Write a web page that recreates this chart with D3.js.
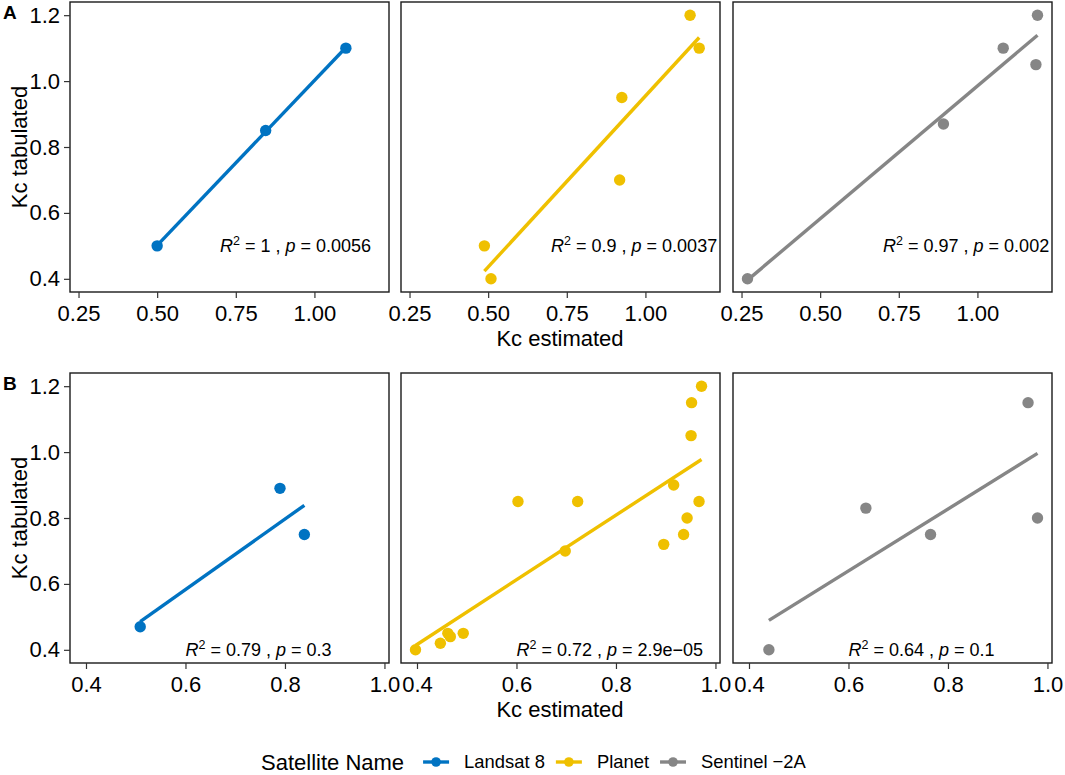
<!DOCTYPE html>
<html><head><meta charset="utf-8">
<script src="https://cdn.jsdelivr.net/npm/d3@7"></script>
<style>
body{margin:0;background:#fff}
text{font-family:"Liberation Sans",Arial,Helvetica,sans-serif;white-space:pre}
</style>
</head><body>
<svg id="c" width="1065" height="775"></svg>
<script>
// ---------------- DATA ----------------
const satellites = ["Landsat 8", "Planet", "Sentinel −2A"];
const rowLabels = ["A", "B"];

// Row A
const landsatA_x  = [0.500, 0.845, 1.100];
const landsatA_y  = [0.50, 0.85, 1.10];
const planetA_x   = [0.488, 0.509, 0.918, 0.925, 1.142, 1.171];
const planetA_y   = [0.50, 0.40, 0.70, 0.95, 1.20, 1.10];
const sentinelA_x = [0.269, 0.892, 1.082, 1.186, 1.191];
const sentinelA_y = [0.40, 0.87, 1.10, 1.05, 1.20];

// Row B
const landsatB_x  = [0.509, 0.790, 0.839];
const landsatB_y  = [0.47, 0.89, 0.75];
const planetB_x   = [0.397, 0.447, 0.462, 0.467, 0.493, 0.603, 0.698, 0.723, 0.896, 0.916, 0.936, 0.943, 0.951, 0.952, 0.967, 0.972];
const planetB_y   = [0.40, 0.42, 0.45, 0.44, 0.45, 0.85, 0.70, 0.85, 0.72, 0.90, 0.75, 0.80, 1.05, 1.15, 0.85, 1.20];
const sentinelB_x = [0.440, 0.635, 0.765, 0.961, 0.980];
const sentinelB_y = [0.40, 0.83, 0.75, 1.15, 0.80];

// Stats labels
const r2A = ["1", "0.9", "0.97"];
const pA  = ["0.0056", "0.0037", "0.002"];
const r2B = ["0.79", "0.72", "0.64"];
const pB  = ["0.3", "2.9e−05", "0.1"];
const labelPosA = [0.7, 0.5];
const labelPosB = [0.6, 0.4];

// Ticks
const xTicksA = [0.25, 0.50, 0.75, 1.00];
const xTickLabelsA = ["0.25", "0.50", "0.75", "1.00"];
const xTicksB = [0.4, 0.6, 0.8, 1.0];
const xTickLabelsB = ["0.4", "0.6", "0.8", "1.0"];
const yTicks = [0.4, 0.6, 0.8, 1.0, 1.2];
const yTickLabels = ["0.4", "0.6", "0.8", "1.0", "1.2"];

const xTitle = "Kc estimated";
const yTitle = "Kc tabulated";
const legendTitle = "Satellite Name";

// ---------------- STYLE / LAYOUT ----------------
const colors = ["#0073C2", "#EFC000", "#868686"];
const cols = [[70, 389], [401, 720], [733, 1052]];
const rowsY = [[2, 292], [373, 663]];
const fontTick = 22, fontTitle = 22, fontStat = 18;

const rows = [
  {x: [landsatA_x, planetA_x, sentinelA_x], y: [landsatA_y, planetA_y, sentinelA_y],
   r2: r2A, p: pA, lab: labelPosA, xt: xTicksA, xtl: xTickLabelsA},
  {x: [landsatB_x, planetB_x, sentinelB_x], y: [landsatB_y, planetB_y, sentinelB_y],
   r2: r2B, p: pB, lab: labelPosB, xt: xTicksB, xtl: xTickLabelsB}
];

const svg = d3.select("#c");
const defs = svg.append("defs");

function linfit(xs, ys) {
  const mx = d3.mean(xs), my = d3.mean(ys);
  let sxy = 0, sxx = 0;
  xs.forEach((v, i) => { sxy += (v - mx) * (ys[i] - my); sxx += (v - mx) * (v - mx); });
  const b = sxy / sxx, a = my - b * mx;
  return v => a + b * v;
}

rows.forEach((row, ri) => {
  const allX = row.x.flat(), allY = row.y.flat();
  const [xmin, xmax] = d3.extent(allX), ex = (xmax - xmin) * 0.05;
  const [ymin, ymax] = d3.extent(allY), ey = (ymax - ymin) * 0.05;
  const [top, bot] = rowsY[ri];
  const y = d3.scaleLinear().domain([ymin - ey, ymax + ey]).range([bot, top]);

  cols.forEach(([l, r], ci) => {
    const x = d3.scaleLinear().domain([xmin - ex, xmax + ex]).range([l, r]);
    const id = `clip${ri}${ci}`;
    defs.append("clipPath").attr("id", id).append("rect")
      .attr("x", l).attr("y", top).attr("width", r - l).attr("height", bot - top);
    const g = svg.append("g").attr("clip-path", `url(#${id})`);

    const xs = row.x[ci], ys = row.y[ci];
    const f = linfit(xs, ys);
    const [lx0, lx1] = d3.extent(xs);
    g.append("line")
      .attr("x1", x(lx0)).attr("y1", y(f(lx0)))
      .attr("x2", x(lx1)).attr("y2", y(f(lx1)))
      .attr("stroke", colors[ci]).attr("stroke-width", 3.4);
    g.selectAll("circle.pt").data(xs.map((v, i) => [v, ys[i]])).enter()
      .append("circle").attr("class", "pt")
      .attr("cx", d => x(d[0])).attr("cy", d => y(d[1])).attr("r", 5.7)
      .attr("fill", colors[ci]);

    // stat label
    const t = g.append("text")
      .attr("x", x(row.lab[0])).attr("y", y(row.lab[1])).attr("dy", "0.35em")
      .attr("font-size", fontStat).attr("fill", "#000");
    t.append("tspan").attr("font-style", "italic").text("R");
    t.append("tspan").attr("font-size", 12.5).attr("dy", -7).text("2");
    t.append("tspan").attr("dy", 7).text(` = ${row.r2[ci]} , `);
    t.append("tspan").attr("font-style", "italic").text("p");
    t.append("tspan").text(` = ${row.p[ci]}`);

    // border
    svg.append("rect").attr("x", l).attr("y", top).attr("width", r - l).attr("height", bot - top)
      .attr("fill", "none").attr("stroke", "#1a1a1a").attr("stroke-width", 1.4);

    // x axis
    const xa = svg.append("g").attr("transform", `translate(0,${bot})`)
      .call(d3.axisBottom(x).tickValues(row.xt).tickFormat((d, i) => row.xtl[i])
        .tickSize(6).tickPadding(7));
    xa.select(".domain").remove();
    xa.selectAll(".tick line").attr("stroke", "#333").attr("stroke-width", 1.2);
    xa.selectAll(".tick text").attr("font-size", fontTick).attr("fill", "#000")
      .attr("font-family", '"Liberation Sans",Arial,sans-serif');

    if (ci === 0) {
      const ya = svg.append("g").attr("transform", `translate(${l},0)`)
        .call(d3.axisLeft(y).tickValues(yTicks).tickFormat((d, i) => yTickLabels[i])
          .tickSize(6).tickPadding(4));
      ya.select(".domain").remove();
      ya.selectAll(".tick line").attr("stroke", "#333").attr("stroke-width", 1.2);
      ya.selectAll(".tick text").attr("font-size", fontTick).attr("fill", "#000")
        .attr("font-family", '"Liberation Sans",Arial,sans-serif');
    }
  });

  // axis titles
  svg.append("text").attr("x", 560).attr("y", bot + 54).attr("text-anchor", "middle")
    .attr("font-size", fontTitle).text(xTitle);
  svg.append("text").attr("transform", `translate(27,${(top + bot) / 2}) rotate(-90)`)
    .attr("text-anchor", "middle").attr("font-size", fontTitle).text(yTitle);
  // row label
  svg.append("text").attr("x", 3).attr("y", top + 17).attr("font-size", 19)
    .attr("font-weight", "bold").text(rowLabels[ri]);
});

// legend
const ly = 762;
let cx = 261;
const lt = svg.append("text").attr("x", cx).attr("y", ly).attr("dy", "0.35em")
  .attr("font-size", fontTitle).text(legendTitle);
cx += lt.node().getComputedTextLength() + 19;
satellites.forEach((s, i) => {
  svg.append("line").attr("x1", cx).attr("x2", cx + 26).attr("y1", ly).attr("y2", ly)
    .attr("stroke", colors[i]).attr("stroke-width", 3.4);
  svg.append("circle").attr("cx", cx + 13).attr("cy", ly).attr("r", 4.8).attr("fill", colors[i]);
  cx += 26 + 15;
  const tt = svg.append("text").attr("x", cx).attr("y", ly).attr("dy", "0.35em")
    .attr("font-size", 18.4).text(s);
  cx += tt.node().getComputedTextLength() + 11;
});
</script>
</body></html>
